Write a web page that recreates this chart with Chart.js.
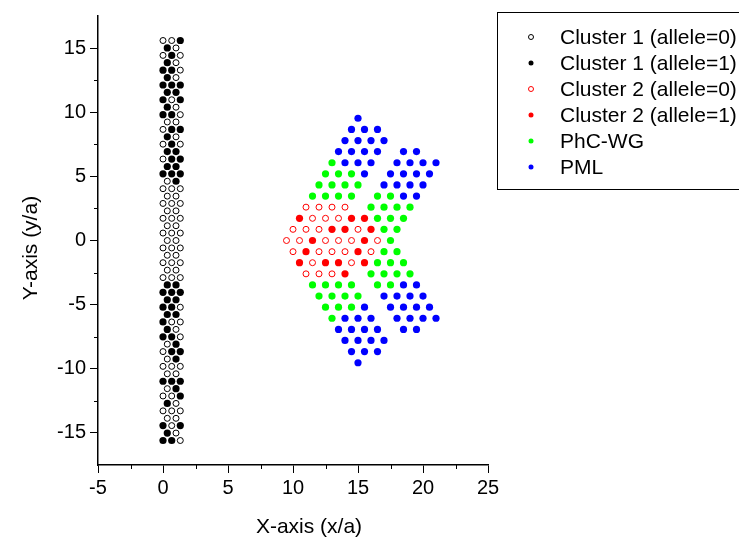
<!DOCTYPE html>
<html>
<head>
<meta charset="utf-8">
<script src="https://cdn.jsdelivr.net/npm/chart.js@4.4.1/dist/chart.umd.min.js"></script>
<style>
  html, body { margin: 0; padding: 0; background: #fff; }
  #wrap { width: 739px; height: 544px; }
</style>
</head>
<body>
<div id="wrap"><canvas id="chart" width="739" height="544"></canvas></div>
<script>
// Lattice map — two clusters, waveguide and PML sites, drawn as a Chart.js scatter

const FONT = '"Liberation Sans", Arial, sans-serif';

// Cluster 1: narrow vertical strip, rows alternate 3 sites / 2 sites
const c1X3 = [0, 0.67, 1.33];
const c1X2 = [0.33, 1];
const c1Y = [
    15.59, 15.01, 14.43, 13.86, 13.28, 12.70, 12.12, 11.55, 10.97, 10.39,
    9.81, 9.24, 8.66, 8.08, 7.51, 6.93, 6.35, 5.77, 5.20, 4.62,
    4.04, 3.46, 2.89, 2.31, 1.73, 1.15, 0.58, 0, -0.58, -1.15,
    -1.73, -2.31, -2.89, -3.46, -4.04, -4.62, -5.20, -5.77, -6.35, -6.93,
    -7.51, -8.08, -8.66, -9.24, -9.81, -10.39, -10.97, -11.55, -12.12, -12.70,
    -13.28, -13.86, -14.43, -15.01, -15.59
];
// allele per site, top row first ('1' = filled)
const c1Alleles = [
    '001', '10', '010', '10', '110', '10', '111', '11', '101', '10',
    '110', '00', '011', '10', '010', '11', '011', '11', '111', '01',
    '000', '00', '000', '00', '000', '00', '000', '00', '000', '00',
    '000', '00', '000', '11', '111', '11', '110', '11', '100', '10',
    '110', '01', '011', '01', '000', '00', '111', '01', '001', '10',
    '000', '00', '101', '10', '110'
];

// Right-hand block: lattice rows (y/a) and the x/a of each site in that row
const rowY = [
    9.53, 8.66, 7.79, 6.93, 6.06, 5.20, 4.33, 3.46, 2.60, 1.73, 0.87, 0,
    -0.87, -1.73, -2.60, -3.46, -4.33, -5.20, -6.06, -6.93, -7.79, -8.66, -9.53
];
const c2OpenX = [
    [], [], [], [], [], [], [], [],
    [11, 12, 13, 14],
    [11.5, 12.5, 13.5],
    [10, 11, 12, 15],
    [9.5, 10.5, 12.5, 13.5, 14.5, 16.5],
    [10, 12, 13, 14, 16],
    [11.5, 14.5],
    [11, 12, 13],
    [], [], [], [], [], [], [], []
];
const c2FillX = [
    [], [], [], [], [], [], [], [],
    [],
    [10.5, 14.5, 15.5],
    [13, 14, 16],
    [11.5, 15.5],
    [11, 15],
    [10.5, 12.5, 13.5, 15.5],
    [14],
    [], [], [], [], [], [], [], []
];
const wgX = [
    [], [], [], [],
    [13],
    [12.5, 13.5, 14.5],
    [12, 13, 14, 15],
    [11.5, 12.5, 13.5, 14.5, 16.5, 17.5],
    [16, 17, 18, 19],
    [16.5, 17.5, 18.5],
    [17, 18],
    [17.5],
    [17, 18],
    [16.5, 17.5, 18.5],
    [16, 17, 18, 19],
    [11.5, 12.5, 13.5, 14.5, 16.5, 17.5],
    [12, 13, 14, 15],
    [12.5, 13.5, 14.5],
    [13],
    [], [], [], []
];
const pmlX = [
    [15],
    [14.5, 15.5, 16.5],
    [14, 15, 16, 17],
    [13.5, 14.5, 15.5, 16.5, 18.5, 19.5],
    [14, 15, 16, 18, 19, 20, 21],
    [15.5, 17.5, 18.5, 19.5, 20.5],
    [17, 18, 19, 20],
    [18.5, 19.5],
    [], [], [], [], [], [], [],
    [18.5, 19.5],
    [17, 18, 19, 20],
    [15.5, 17.5, 18.5, 19.5, 20.5],
    [14, 15, 16, 18, 19, 20, 21],
    [13.5, 14.5, 15.5, 16.5, 18.5, 19.5],
    [14, 15, 16, 17],
    [14.5, 15.5, 16.5],
    [15]
];

const xTicks = [-5, 0, 5, 10, 15, 20, 25];
const yTicks = [-15, -10, -5, 0, 5, 10, 15];
const xMinor = [-2.5, 2.5, 7.5, 12.5, 17.5, 22.5];
const yMinor = [-12.5, -7.5, -2.5, 2.5, 7.5, 12.5];
const xTitle = 'X-axis (x/a)';
const yTitle = 'Y-axis (y/a)';

function clusterOnePoints(allele) {
    const pts = [];
    c1Alleles.forEach((row, i) => {
        const xs = row.length === 3 ? c1X3 : c1X2;
        for (let j = 0; j < row.length; j++) {
            if (row[j] === allele) pts.push({x: xs[j], y: c1Y[i]});
        }
    });
    return pts;
}

function rowsToPoints(xRows) {
    const pts = [];
    xRows.forEach((xs, i) => xs.forEach(x => pts.push({x: x, y: rowY[i]})));
    return pts;
}

function openSet(label, data, color) {
    return { label, data, pointStyle: 'circle', pointRadius: 3, borderWidth: 1,
             backgroundColor: '#ffffff', borderColor: color };
}
function filledSet(label, data, color) {
    return { label, data, pointStyle: 'circle', pointRadius: 3.6, borderWidth: 0,
             backgroundColor: color, borderColor: color };
}

// Short minor ticks between the labelled ones, plus the two axis titles
const axisExtras = {
    id: 'axisExtras',
    afterDraw(chart) {
        const {ctx, scales: {x, y}} = chart;
        ctx.save();
        ctx.strokeStyle = '#000';
        ctx.lineWidth = 1;
        ctx.beginPath();
        xMinor.forEach(v => {
            const px = Math.round(x.getPixelForValue(v)) + 0.5;
            ctx.moveTo(px, x.top);
            ctx.lineTo(px, x.top + 4);
        });
        yMinor.forEach(v => {
            const py = Math.round(y.getPixelForValue(v)) + 0.5;
            ctx.moveTo(y.right, py);
            ctx.lineTo(y.right - 4, py);
        });
        ctx.stroke();

        ctx.fillStyle = '#000';
        ctx.font = '21px ' + FONT;
        ctx.textAlign = 'center';
        ctx.textBaseline = 'middle';
        ctx.fillText(xTitle, 309, 527);
        ctx.translate(31, 248);
        ctx.rotate(-Math.PI / 2);
        ctx.fillText(yTitle, 0, 0);
        ctx.restore();
    }
};

// Boxed legend to the right of the plot, partly cut by the page edge
const legendBox = {
    id: 'legendBox',
    afterDraw(chart) {
        const ctx = chart.ctx;
        ctx.save();
        ctx.strokeStyle = '#000';
        ctx.lineWidth = 1;
        ctx.strokeRect(497.5, 12.5, 280, 177);
        ctx.font = '21px ' + FONT;
        ctx.textBaseline = 'middle';
        chart.data.datasets.forEach((ds, i) => {
            const y = 37 + i * 26;
            ctx.beginPath();
            ctx.arc(531, y, 2.5, 0, Math.PI * 2);
            ctx.fillStyle = ds.backgroundColor;
            ctx.fill();
            if (ds.borderWidth) {
                ctx.strokeStyle = ds.borderColor;
                ctx.stroke();
            }
            ctx.fillStyle = '#000';
            ctx.fillText(ds.label, 560, y + 1);
        });
        ctx.restore();
    }
};

const axisCommon = {
    type: 'linear',
    grid: { display: true, drawOnChartArea: false, drawTicks: true, tickLength: 8,
            color: '#000', tickColor: '#000', tickWidth: 1 },
    border: { display: true, color: '#000', width: 1.5 },
};

new Chart(document.getElementById('chart'), {
    type: 'scatter',
    data: {
        datasets: [
            openSet('Cluster 1 (allele=0)', clusterOnePoints('0'), '#000000'),
            filledSet('Cluster 1 (allele=1)', clusterOnePoints('1'), '#000000'),
            openSet('Cluster 2 (allele=0)', rowsToPoints(c2OpenX), '#ff0000'),
            filledSet('Cluster 2 (allele=1)', rowsToPoints(c2FillX), '#ff0000'),
            filledSet('PhC-WG', rowsToPoints(wgX), '#00ff00'),
            filledSet('PML', rowsToPoints(pmlX), '#0000ff'),
        ]
    },
    options: {
        responsive: false,
        animation: false,
        events: [],
        layout: { padding: { left: 0, right: 251, top: 10, bottom: 0 } },
        plugins: { legend: { display: false }, tooltip: { enabled: false } },
        scales: {
            x: Object.assign({}, axisCommon, {
                position: 'bottom', min: -5, max: 25,
                afterBuildTicks: s => { s.ticks = xTicks.map(v => ({value: v})); },
                afterFit: s => { s.height = 79; },
                ticks: { color: '#000', font: { family: FONT, size: 20 }, padding: 3, maxRotation: 0 }
            }),
            y: Object.assign({}, axisCommon, {
                position: 'left', min: -17.5, max: 17.5,
                afterBuildTicks: s => { s.ticks = yTicks.map(v => ({value: v})); },
                afterFit: s => { s.width = 98; },
                ticks: { color: '#000', font: { family: FONT, size: 20 }, padding: 4 }
            })
        }
    },
    plugins: [axisExtras, legendBox]
});
</script>
</body>
</html>
